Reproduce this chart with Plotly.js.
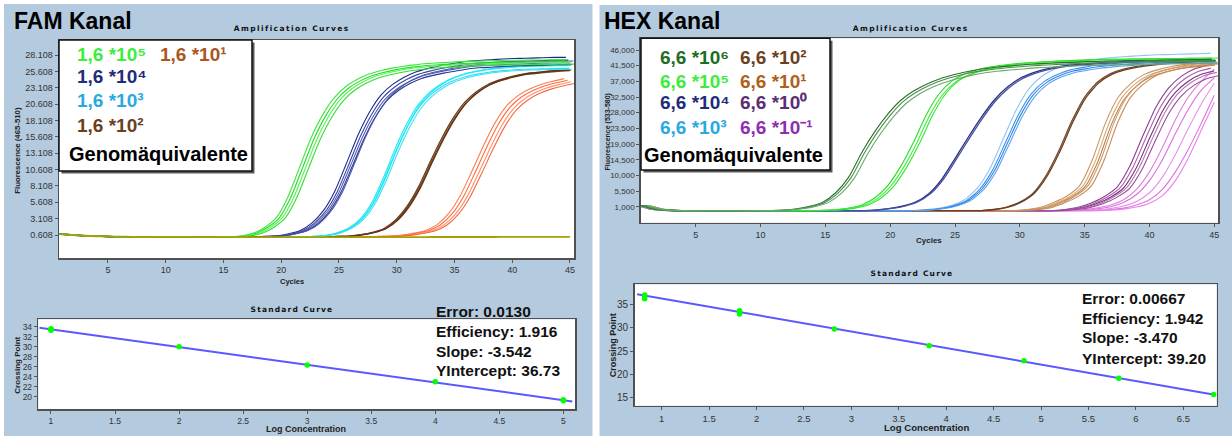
<!DOCTYPE html>
<html><head><meta charset="utf-8">
<script src="https://cdn.plot.ly/plotly-3.0.1.min.js"></script>
<style>html,body{margin:0;padding:0;background:#fff;}#chart{width:1232px;height:436px;}</style>
</head><body><div id="chart"></div>
<script>
// ---------------- DATA ----------------
const cycles = [1,2,3,4,5,6,7,8,9,10,11,12,13,14,15,16,17,18,19,20,21,22,23,24,25,26,27,28,29,30,31,32,33,34,35,36,37,38,39,40,41,42,43,44,45];

// FAM channel amplification (fluorescence 465-510)
const famBaseline = [0.75,0.6,0.5,0.42,0.38, 0.35,0.33,0.31,0.3,0.29, 0.28,0.28,0.27,0.27,0.27, 0.27,0.27,0.27,0.27,0.27, 0.27,0.27,0.27,0.28,0.28, 0.28,0.28,0.28,0.29,0.29, 0.29,0.29,0.3,0.3,0.3, 0.3,0.3,0.3,0.31,0.31, 0.31,0.31,0.32,0.32,0.32];
const famGreenStart = 15;
const famGreenTail = [0.31,0.36,0.5,0.9,1.8,3.3,6.5,11.0,15.5,19.0,21.6,23.3,24.4,25.2,25.7,26.1,26.4,26.6,26.8,26.9,27.0,27.1,27.15,27.2,27.25,27.3,27.3,27.35,27.35,27.4,27.4];
const famNavyStart = 17;
const famNavyTail = [0.3,0.33,0.4,0.5,0.8,1.3,2.4,4.3,7.3,11.5,15.8,19.3,21.9,23.5,24.6,25.4,25.9,26.3,26.6,26.9,27.1,27.2,27.3,27.4,27.45,27.5,27.55,27.6,27.6];
const famCyanStart = 21;
const famCyanTail = [0.31,0.34,0.4,0.55,0.95,1.7,3.1,5.6,9.4,13.8,17.6,20.6,22.5,23.8,24.7,25.3,25.7,26.0,26.2,26.35,26.45,26.5,26.55,26.6,26.6];
const famBrownStart = 24;
const famBrownTail = [0.33,0.38,0.45,0.65,1.0,1.6,2.9,5.0,8.0,11.8,15.4,18.5,20.9,22.5,23.6,24.3,24.8,25.2,25.4,25.6,25.75,25.85];
const famOrangeStart = 27;
const famOrangeTail = [0.32,0.35,0.4,0.45,0.6,0.9,1.3,2.2,3.9,6.6,10.3,14.2,17.7,20.3,21.9,22.9,23.6,24.1,24.5];
// replicate offsets (cycles) and plateau factors
const famGreenShift = [-0.4,-0.15,0.1,0.35],  famGreenScale = [1.0,0.99,0.985,0.975];
const famNavyShift = [-0.35,-0.15,0,0.15,0.3], famNavyScale = [1.005,0.99,0.975,0.965,0.985];
const famCyanShift = [-0.15,-0.05,0.05,0.15], famCyanScale = [0.995,0.98,1.0,0.975];
const famBrownShift = [-0.1,0,0.1], famBrownScale = [1,0.995,1];
const famOrangeShift = [-0.5,-0.2,0.1,0.35], famOrangeScale = [1,0.99,0.98,0.97];
const famYTicks = [0.608,3.108,5.608,8.108,10.608,13.108,15.608,18.108,20.608,23.108,25.608,28.108];

// HEX channel amplification (fluorescence 533-580)
const hexBaseline = [1300,300,-50,-120,-150, -150,-150,-150,-150,-150, -150,-150,-150,-150,-150, -150,-150,-150,-150,-150, -150,-150,-150,-150,-150, -150,-150,-150,-150,-150, -150,-150,-150,-150,-150, -150,-150,-150,-150,-150, -150,-150,-150,-150,-150];
const hexDkGreenStart = 9;
const hexDkGreenTail = [-140,-120,-80,50,400,1100,2300,5000,9500,16500,22500,27500,31500,34200,36200,37700,38800,39700,40400,40900,41300,41600,41900,42100,42300,42450,42600,42700,42800,42900,43000,43050,43100,43150,43200,43250,43300];
const hexGreenStart = 14;
const hexGreenTail = [-120,-50,150,600,1500,3500,7000,12500,19500,27500,33500,37200,39200,40400,41200,41700,42100,42400,42600,42800,42950,43100,43200,43300,43350,43400,43450,43500,43550,43600,43650,43700];
const hexNavyStart = 18;
const hexNavyTail = [-100,100,500,1200,2400,4800,9000,14800,20800,26500,31500,35200,37800,39400,40500,41200,41700,42000,42300,42500,42650,42800,42900,43000,43100,43150,43200,43250];
const hexBlueStart = 22;
const hexBlueTail = [-100,100,500,1300,2800,6000,11500,19500,27500,33500,37000,39000,40300,41000,41600,42000,42300,42550,42750,42900,43000,43100,43200,43300];
const hexBrownStart = 27;
const hexBrownTail = [-100,200,900,2300,4800,9800,17000,25500,32500,36800,39200,40500,41300,41800,42200,42500,42700,42900,43000];
const hexTanStart = 30;
const hexTanTail = [-100,200,800,2200,4000,7000,14500,25000,32500,36500,39000,40300,41200,41800,42200,42500];
const hexPurpleStart = 33;
const hexPurpleTail = [-100,200,800,2000,3800,6500,12500,21000,29000,34500,37800,39800,40800];
const hexPinkStart = 34;
const hexPinkA = [-100,200,700,1500,3000,6000,11000,18000,26000,32500,37000,40500];
const hexPinkB = [-100,100,400,1000,2200,4500,8500,14500,22000,29000,34500,38000];
const hexPinkC = [-150,-100,150,500,1200,2500,5000,9500,16000,23500,30500,36500];
const hexPinkD = [-150,-150,-100,200,600,1500,3000,6000,11000,17500,25000,33000];
const hexPinkE = [-150,-150,-120,0,300,900,2000,4200,8500,15000,23000,31000];
const hexDkGreenShift = [-0.2,0,0.25], hexDkGreenScale = [1.0,0.99,0.975];
const hexGreenShift = [-0.2,0.05,0.3], hexGreenScale = [1.0,0.99,1.0];
const hexNavyShift = [0,0.12], hexNavyScale = [1.0,0.995];
const hexBlueShift = [-0.3,-0.1,0.05,0.2], hexBlueScale = [1.04,1.0,0.99,0.98];
const hexBrownShift = [0,0.1], hexBrownScale = [1.0,0.995];
const hexTanShift = [-0.4,-0.15,0.05,0.25,0.5], hexTanScale = [1.0,0.99,0.98,1.0,0.99];
const hexPurpleShift = [-0.5,-0.25,0,0.2,0.45], hexPurpleScale = [1.02,1.0,0.98,0.97,0.95];
const hexYTicks = [1000,5500,10000,14500,19000,23500,28000,32500,37000,41500,46000];

// Standard curves
const famLog = [1,1,1,2,3,4,5,5];
const famCp  = [33.3,33.45,33.6,30.0,26.35,23.0,19.2,19.4];
const famFitLog = [0.91,5.07];
const famFitCp  = [33.8,19.05];
const famStdYTicks = [20,22,24,26,28,30,32,34];
const hexLog = [0.82,0.82,0.82,1.82,1.82,1.82,2.82,3.82,4.82,5.82,6.82];
const hexCp  = [36.2,36.6,37.0,32.9,33.25,33.6,29.7,26.1,22.9,19.15,15.7];
const hexFitLog = [0.74,6.83];
const hexFitCp  = [37.15,15.65];

const famStats = ['Error: 0.0130','Efficiency: 1.916','Slope: -3.542','YIntercept: 36.73'];
const hexStats = ['Error: 0.00667','Efficiency: 1.942','Slope: -3.470','YIntercept: 39.20'];
const famLegend = ['1,6 *10⁵','1,6 *10¹','1,6 *10⁴','1,6 *10³','1,6 *10²'];
const hexLegend = ['6,6 *10⁶','6,6 *10²','6,6 *10⁵','6,6 *10¹','6,6 *10⁴','6,6 *10⁰','6,6 *10³','6,6 *10⁻¹'];

// ---------------- BUILD ----------------
const W = 1232, H = 436;
const px = x => x / W;
const py = y => 1 - y / H;
function curve(base, start, tail) { return base.slice(0, start - 1).concat(tail); }

const traces = [];
function group(xa, ya, vals, shifts, scales, colors, width) {
  shifts.forEach((s, i) => {
    traces.push({type:'scatter', mode:'lines', xaxis:xa, yaxis:ya,
      x: cycles.map(c => c + s), y: vals.map(v => v * scales[i]),
      line:{color:colors[i % colors.length], width:width || 1.1, shape:'spline', smoothing:0.6},
      hoverinfo:'skip'});
  });
}
function single(xa, ya, vals, color, width) {
  traces.push({type:'scatter', mode:'lines', xaxis:xa, yaxis:ya, x:cycles, y:vals,
    line:{color:color, width:width || 1.1, shape:'spline', smoothing:0.6}, hoverinfo:'skip'});
}

// FAM amplification
group('x','y', curve(famBaseline, famOrangeStart, famOrangeTail), famOrangeShift, famOrangeScale, ['#ff7a50','#ff6a40','#ff8f66','#f26a44']);
group('x','y', curve(famBaseline, famBrownStart, famBrownTail), famBrownShift, famBrownScale, ['#6b3a1a','#7a4522','#5e3216'], 1.3);
group('x','y', curve(famBaseline, famCyanStart, famCyanTail), famCyanShift, famCyanScale, ['#1ee6f2','#30d8f0','#10eef8','#40e0f0']);
group('x','y', curve(famBaseline, famNavyStart, famNavyTail), famNavyShift, famNavyScale, ['#1f2a8a','#3a45a0','#5560b5','#2a3590','#4a55aa']);
group('x','y', curve(famBaseline, famGreenStart, famGreenTail), famGreenShift, famGreenScale, ['#3be83b','#22dd22','#5cee5c','#30e030']);
single('x','y', famBaseline, '#a8a000', 1.8);

// HEX amplification
group('x3','y3', curve(hexBaseline, hexPinkStart, hexPinkA), [0], [1], ['#e27ae2']);
group('x3','y3', curve(hexBaseline, hexPinkStart, hexPinkB), [0], [1], ['#dc6cdc']);
group('x3','y3', curve(hexBaseline, hexPinkStart, hexPinkC), [0], [1], ['#e690e6']);
group('x3','y3', curve(hexBaseline, hexPinkStart, hexPinkD), [0], [1], ['#e070e0']);
group('x3','y3', curve(hexBaseline, hexPinkStart, hexPinkE), [0], [1], ['#e684e6']);
group('x3','y3', curve(hexBaseline, hexPurpleStart, hexPurpleTail), hexPurpleShift, hexPurpleScale, ['#8e3d8e','#a860a8','#7a2e7a','#b478b4','#9a4a9a']);
group('x3','y3', curve(hexBaseline, hexTanStart, hexTanTail), hexTanShift, hexTanScale, ['#c9955f','#d8a878','#b8824e','#d09a66','#c48c58']);
group('x3','y3', curve(hexBaseline, hexBrownStart, hexBrownTail), hexBrownShift, hexBrownScale, ['#7a4a28','#6a3e20'], 1.3);
group('x3','y3', curve(hexBaseline, hexBlueStart, hexBlueTail), hexBlueShift, hexBlueScale, ['#8cc4f5','#3f90ea','#2e86e6','#5aa2ef']);
group('x3','y3', curve(hexBaseline, hexNavyStart, hexNavyTail), hexNavyShift, hexNavyScale, ['#2b2f85','#4a4fa0'], 1.3);
group('x3','y3', curve(hexBaseline, hexGreenStart, hexGreenTail), hexGreenShift, hexGreenScale, ['#22dd22','#44ee44','#33e633']);
group('x3','y3', curve(hexBaseline, hexDkGreenStart, hexDkGreenTail), hexDkGreenShift, hexDkGreenScale, ['#2d6e2d','#4a8f4a','#6aa86a']);

// Standard curves
traces.push({type:'scatter', mode:'lines', xaxis:'x2', yaxis:'y2', x:famFitLog, y:famFitCp, line:{color:'rgba(60,60,255,0.85)', width:2}, hoverinfo:'skip'});
traces.push({type:'scatter', mode:'markers', xaxis:'x2', yaxis:'y2', x:famLog, y:famCp, marker:{color:'#00ff00', size:5.5}, hoverinfo:'skip'});
traces.push({type:'scatter', mode:'lines', xaxis:'x4', yaxis:'y4', x:hexFitLog, y:hexFitCp, line:{color:'rgba(60,60,255,0.85)', width:2}, hoverinfo:'skip'});
traces.push({type:'scatter', mode:'markers', xaxis:'x4', yaxis:'y4', x:hexLog, y:hexCp, marker:{color:'#00ff00', size:5.5}, hoverinfo:'skip'});

const FONT = 'Liberation Sans, Arial, sans-serif';
function ax(domain, range, extra) {
  return Object.assign({domain:domain, range:range, showgrid:false, zeroline:false, showline:true, mirror:true,
    linecolor:'#505050', linewidth:1.5, ticks:'outside', ticklen:3, tickcolor:'#555',
    tickfont:{family:FONT, size:9, color:'#333'}, fixedrange:true}, extra || {});
}

const layout = {
  width:W, height:H, margin:{l:0,r:0,t:0,b:0}, showlegend:false,
  paper_bgcolor:'#b4cade', plot_bgcolor:'#ffffff',
  xaxis: ax([px(59),px(574)], [0.758,45.35], {anchor:'y', tickvals:[5,10,15,20,25,30,35,40,45]}),
  yaxis: ax([py(258),py(40)], [-2.906,30.40], {anchor:'x', tickvals:famYTicks, tickformat:'.3f'}),
  xaxis2: ax([px(38.3),px(575)], [0.901,5.091], {anchor:'y2', dtick:0.5, tick0:1, tickfont:{family:FONT,size:8.5,color:'#333'}}),
  yaxis2: ax([py(409.3),py(319.3)], [17.48,35.48], {anchor:'x2', tickvals:famStdYTicks, tickfont:{family:FONT,size:8.5,color:'#333'}}),
  xaxis3: ax([px(640.7),px(1218)], [0.758,45.285], {anchor:'y3', tickvals:[5,10,15,20,25,30,35,40,45]}),
  yaxis3: ax([py(222.7),py(38.3)], [-3595,49360], {anchor:'x3', tickvals:hexYTicks, tickformat:',.0f', tickfont:{family:FONT,size:8,color:'#333'}}),
  xaxis4: ax([px(634.7),px(1216.7)], [0.715,6.852], {anchor:'y4', dtick:0.5, tick0:1, tickfont:{family:FONT,size:9.5,color:'#333'}}),
  yaxis4: ax([py(405.7),py(284.3)], [13.29,39.28], {anchor:'x4', dtick:5, tick0:0, tickfont:{family:FONT,size:10,color:'#333'}}),
  shapes: [
    {type:'rect', xref:'paper', yref:'paper', x0:0, x1:px(4), y0:0, y1:1, fillcolor:'#fff', line:{width:0}, layer:'below'},
    {type:'rect', xref:'paper', yref:'paper', x0:0, x1:px(600), y0:py(4), y1:1, fillcolor:'#fff', line:{width:0}, layer:'below'},
    {type:'rect', xref:'paper', yref:'paper', x0:px(599), x1:1, y0:py(5), y1:1, fillcolor:'#fff', line:{width:0}, layer:'below'},
    {type:'rect', xref:'paper', yref:'paper', x0:px(592.5), x1:px(599.5), y0:0, y1:1, fillcolor:'#fff', line:{width:0}, layer:'below'},
    // legend boxes (shadow + box)
    {type:'rect', xref:'paper', yref:'paper', x0:px(61.5), x1:px(254.5), y0:py(173.5), y1:py(42.5), fillcolor:'#5a5a5a', line:{width:0}, layer:'above'},
    {type:'rect', xref:'paper', yref:'paper', x0:px(59), x1:px(252), y0:py(171), y1:py(40), fillcolor:'#fff', line:{color:'#111', width:1.5}, layer:'above'},
    {type:'rect', xref:'paper', yref:'paper', x0:px(643.5), x1:px(832.5), y0:py(172.5), y1:py(40.8), fillcolor:'#5a5a5a', line:{width:0}, layer:'above'},
    {type:'rect', xref:'paper', yref:'paper', x0:px(641), x1:px(830), y0:py(170), y1:py(38.3), fillcolor:'#fff', line:{color:'#111', width:1.5}, layer:'above'}
  ],
  annotations: []
};

function ann(text, x, y, size, color, opts) {
  layout.annotations.push(Object.assign({text:text, x:px(x), y:py(y), xref:'paper', yref:'paper', showarrow:false,
    xanchor:'left', yanchor:'middle', font:{family:FONT, size:size, color:color, weight:700}}, opts || {}));
}
// Panel titles
ann('FAM Kanal', 12, 21, 23, '#000');
ann('HEX Kanal', 602, 21.5, 23, '#000');
// Chart titles (spaced)
const TF = {family:'DejaVu Sans, sans-serif', size:7.5, color:'#111', weight:700};
ann('Amplification Curves', 292, 28, 7.5, '#111', {xanchor:'center', font:TF});
ann('Amplification Curves', 911, 28, 7.5, '#111', {xanchor:'center', font:TF});
ann('Standard Curve', 292, 309, 7.5, '#111', {xanchor:'center', font:TF});
ann('Standard Curve', 912, 273, 7.5, '#111', {xanchor:'center', font:TF});
// Axis titles
ann('Fluorescence (465-510)', 16.7, 150, 7.8, '#222', {xanchor:'center', textangle:-90});
ann('Fluorescence (533-580)', 607.5, 132, 7, '#222', {xanchor:'center', textangle:-90});
ann('Cycles', 292, 281, 7.5, '#222', {xanchor:'center'});
ann('Cycles', 929, 240, 8, '#222', {xanchor:'center'});
ann('Crossing Point', 16.7, 365, 8, '#222', {xanchor:'center', textangle:-90});
ann('Crossing Point', 612.7, 345.5, 9, '#222', {xanchor:'center', textangle:-90});
ann('Log Concentration', 306, 429, 9, '#222', {xanchor:'center'});
ann('Log Concentration', 926, 427.5, 9.6, '#222', {xanchor:'center'});
// FAM legend
const famLegendColors = ['#3ded3d','#a9561f','#1f2b7b','#2aa9e1','#6b3e1e'];
const famLegendPos = [[75,55],[158,55],[75,76],[75,100.5],[75,126]];
famLegend.forEach((t,i) => ann(t, famLegendPos[i][0], famLegendPos[i][1], 19, famLegendColors[i]));
ann('Genomäquivalente', 67, 154, 20, '#000');
// HEX legend
const hexLegendColors = ['#1e6d22','#6e3f1d','#3ded3d','#b25e1c','#1f2b7b','#5b2d72','#2aa9e1','#8e2fae'];
const hexLegendPos = [[658,57],[738,57],[658,82],[738,82],[658,102],[738,102],[658,127.5],[738,127.5]];
hexLegend.forEach((t,i) => ann(t, hexLegendPos[i][0], hexLegendPos[i][1], 19, hexLegendColors[i]));
ann('Genomäquivalente', 642, 155, 20, '#000');
// Standard-curve statistics
const famStatY = [311.7,331.7,351,370.7];
famStats.forEach((t,i) => ann(t, 434, famStatY[i], 15.5, '#111'));
const hexStatY = [298.3,318.3,337.7,358.3];
hexStats.forEach((t,i) => ann(t, 1080, hexStatY[i], 15.5, '#111'));

Plotly.newPlot('chart', traces, layout, {staticPlot:true, displayModeBar:false}).then(() => {
  document.querySelectorAll('.annotation-text').forEach(t => {
    const s = t.textContent;
    if (s === 'Amplification Curves') t.style.letterSpacing = '1.4px';
    if (s === 'Standard Curve') t.style.letterSpacing = '1.2px';
  });
});
</script></body></html>
